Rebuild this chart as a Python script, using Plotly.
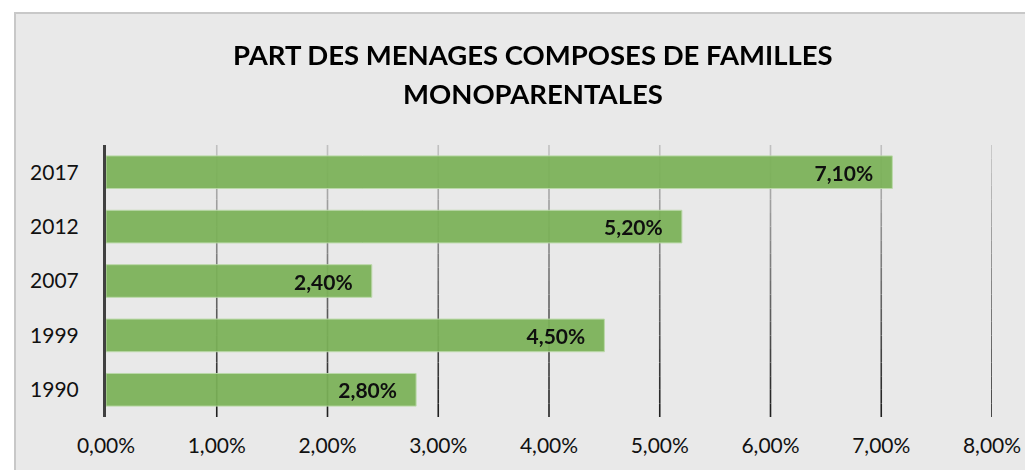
import plotly.graph_objects as go

years = ['1990', '1999', '2007', '2012', '2017']
shares = [0.028, 0.045, 0.024, 0.052, 0.071]
title_lines = ['PART DES MENAGES COMPOSES DE FAMILLES', 'MONOPARENTALES']
grid_ticks = [0.01, 0.02, 0.03, 0.04, 0.05, 0.06, 0.07, 0.08]

COLORS = {
    'bar': '#7BB258',
    'bg': '#E9E9E9',
    'axis': '#404040',
    'text': '#111111',
}

FONT = 'Lato, Open Sans, sans-serif'
NBSP = '\u00a0'

fig = go.Figure()

fig.add_trace(go.Bar(
    y=years,
    x=shares,
    orientation='h',
    width=0.6,
    opacity=0.94,
    marker=dict(color=COLORS['bar'], line=dict(color='#B9D8A6', width=1)),
    texttemplate='<b>%{x:.2%}</b>' + NBSP * 3,
    textposition='inside',
    insidetextanchor='end',
    textangle=0,
    textfont=dict(family=FONT, size=21, color='#000000'),
    constraintext='none',
    hoverinfo='skip',
))

# outer chart frame
fig.add_shape(
    type='rect', xref='paper', yref='paper',
    x0=-0.1027, x1=1.2, y0=-0.4, y1=1.485,
    fillcolor=COLORS['bg'], line=dict(color='#C8C8C8', width=2),
    layer='below',
)

# gridlines fading from dark (bottom) to light (top), drawn in short segments
n_seg = 20
top_rgb, bot_rgb = (196, 196, 196), (28, 28, 28)
for tick in grid_ticks:
    for i in range(n_seg):
        t = (i + 0.5) / n_seg
        c = [round(b + (tp - b) * t) for b, tp in zip(bot_rgb, top_rgb)]
        fig.add_shape(
            type='line', xref='x', yref='paper',
            x0=tick, x1=tick, y0=i / n_seg, y1=(i + 1) / n_seg,
            line=dict(color='rgb({},{},{})'.format(*c), width=1.6),
            layer='below',
        )

# title, one annotation per line
for line, ypos in zip(title_lines, [1.331, 1.191]):
    fig.add_annotation(
        text='<b>' + line + '</b>', xref='paper', yref='paper',
        x=0.482, y=ypos, xanchor='center', yanchor='middle',
        showarrow=False, font=dict(size=27.5, color='#000000'),
    )

fig.update_layout(
    width=1025, height=470,
    paper_bgcolor='white',
    plot_bgcolor='rgba(0,0,0,0)',
    separators=', ',
    showlegend=False,
    margin=dict(l=106, r=33, t=145, b=53, autoexpand=False),
    font=dict(family=FONT, size=21, color=COLORS['text']),
    xaxis=dict(
        range=[0, 0.08], dtick=0.01, tickformat='.2%',
        showgrid=False, zeroline=False, showline=False,
        ticks='', ticklabelstandoff=14,
        automargin=False,
        fixedrange=True,
    ),
    yaxis=dict(
        categoryorder='array', categoryarray=years,
        showgrid=False, zeroline=False,
        showline=True, linecolor=COLORS['axis'], linewidth=3,
        ticks='', ticklabelstandoff=20,
        automargin=False,
        fixedrange=True,
    ),
)

fig.write_html(
    'out.html',
    config={'displayModeBar': False},
    post_script="document.body.style.margin='0';document.body.style.overflow='hidden';",
)
